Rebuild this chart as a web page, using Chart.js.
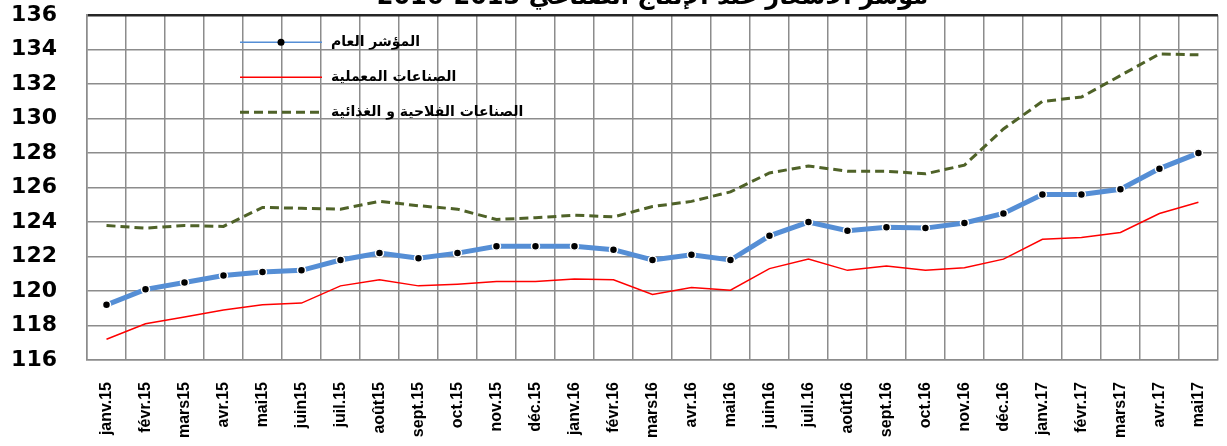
<!DOCTYPE html>
<html lang="ar">
<head>
<meta charset="UTF-8">
<title>مؤشر الأسعار عند الإنتاج الصناعي</title>
<script src="https://cdn.jsdelivr.net/npm/chart.js"></script>
<style>
  html, body { margin: 0; padding: 0; background: #fff; overflow: hidden; }
  #wrap { position: absolute; left: 0; top: -28px; width: 1240px; height: 474px; }
</style>
</head>
<body>
<div id="wrap"><canvas id="myChart"></canvas></div>
<script>
const months = ['janv.15', 'févr.15', 'mars15', 'avr.15', 'mai15', 'juin15', 'juil.15', 'août15', 'sept.15', 'oct.15',
  'nov.15', 'déc.15', 'janv.16', 'févr.16', 'mars16', 'avr.16', 'mai16', 'juin16', 'juil.16', 'août16',
  'sept.16', 'oct.16', 'nov.16', 'déc.16', 'janv.17', 'févr.17', 'mars17', 'avr.17', 'mai17'];

// المؤشر العام
const general = [119.2, 120.1, 120.5, 120.9, 121.1, 121.2, 121.8, 122.2, 121.9, 122.2,
  122.6, 122.6, 122.6, 122.4, 121.8, 122.1, 121.8, 123.2, 124.0, 123.5,
  123.7, 123.65, 123.95, 124.5, 125.6, 125.6, 125.9, 127.1, 128.0];

// الصناعات المعملية
const manufacturing = [117.2, 118.1, 118.5, 118.9, 119.2, 119.3, 120.3, 120.65, 120.3, 120.4,
  120.55, 120.55, 120.7, 120.65, 119.8, 120.2, 120.05, 121.3, 121.85, 121.2,
  121.45, 121.2, 121.35, 121.85, 123.0, 123.1, 123.4, 124.5, 125.15];

// الصناعات الفلاحية و الغذائية
const agrifood = [123.8, 123.65, 123.8, 123.75, 124.85, 124.8, 124.75, 125.2, 124.95, 124.75,
  124.15, 124.25, 124.4, 124.3, 124.9, 125.2, 125.75, 126.85, 127.25, 126.95,
  126.95, 126.8, 127.3, 129.4, 131.0, 131.25, 132.5, 133.75, 133.7];

const seriesNames = ['المؤشر العام', 'الصناعات المعملية', 'الصناعات الفلاحية و الغذائية'];
const chartTitle = 'مؤشر الأسعار عند الإنتاج الصناعي 2013-2016';

// legend drawn inside the plot, like the original
const insideLegend = {
  id: 'insideLegend',
  afterDraw(chart) {
    const { ctx, chartArea } = chart;
    const x0 = chartArea.left + 153, x1 = chartArea.left + 235;
    ctx.save();
    chart.data.datasets.forEach((ds, i) => {
      const y = chartArea.top + 27 + i * 35;
      ctx.beginPath();
      ctx.strokeStyle = ds.borderColor;
      ctx.lineWidth = i === 0 ? 1.5 : ds.borderWidth;
      ctx.setLineDash(ds.borderDash || []);
      ctx.moveTo(x0, y);
      ctx.lineTo(x1, y);
      ctx.stroke();
      ctx.setLineDash([]);
      if (i === 0) {
        ctx.beginPath();
        ctx.fillStyle = ds.pointBackgroundColor;
        ctx.arc((x0 + x1) / 2, y, 3.5, 0, Math.PI * 2);
        ctx.fill();
      }
      ctx.fillStyle = '#000';
      ctx.font = 'bold 14px "DejaVu Sans"';
      ctx.textAlign = 'left';
      ctx.textBaseline = 'middle';
      ctx.fillText(ds.label, x1 + 9, y);
    });
    ctx.restore();
  }
};

new Chart(document.getElementById('myChart'), {
  type: 'line',
  data: {
    labels: months,
    datasets: [
      {
        label: seriesNames[0],
        data: general,
        borderColor: '#558ED5',
        borderWidth: 5,
        pointRadius: 4,
        pointBackgroundColor: '#000',
        pointBorderColor: '#fff',
        pointBorderWidth: 1.5,
        tension: 0
      },
      {
        label: seriesNames[1],
        data: manufacturing,
        borderColor: '#FF0000',
        borderWidth: 1.5,
        pointRadius: 0,
        tension: 0
      },
      {
        label: seriesNames[2],
        data: agrifood,
        borderColor: '#4F6228',
        borderWidth: 3,
        borderDash: [9, 5],
        pointRadius: 0,
        tension: 0
      }
    ]
  },
  options: {
    responsive: true,
    maintainAspectRatio: false,
    animation: false,
    layout: { padding: { left: 0, right: 8, top: 0, bottom: 0 } },
    plugins: {
      legend: { display: false },
      tooltip: { enabled: false },
      title: {
        display: true,
        text: chartTitle,
        fullSize: false,
        color: '#000',
        font: { family: 'DejaVu Sans', size: 24, weight: 'bold', lineHeight: 1.2 },
        padding: { top: 0, bottom: 3 }
      }
    },
    scales: {
      x: {
        offset: true,
        grid: { offset: true, color: '#8c8c8c', lineWidth: 1.5, drawTicks: false },
        border: { color: '#8c8c8c', width: 1.5 },
        ticks: {
          color: '#000',
          minRotation: 90,
          maxRotation: 90,
          autoSkip: false,
          padding: 22,
          font: { family: '"Liberation Sans Narrow", "Liberation Sans"', size: 16, weight: 'bold' }
        },
        afterFit(scale) { scale.height = 86; }
      },
      y: {
        min: 116,
        max: 136,
        ticks: {
          stepSize: 2,
          color: '#000',
          padding: 30,
          font: { family: 'DejaVu Sans', size: 22, weight: 'bold' }
        },
        grid: {
          drawTicks: false,
          color: ctx => (ctx.tick && ctx.tick.value === 136 ? '#262626' : '#8c8c8c'),
          lineWidth: ctx => (ctx.tick && ctx.tick.value === 136 ? 2.5 : 1.5)
        },
        border: { color: '#8c8c8c', width: 1.5 },
        afterFit(scale) { scale.width = 87; }
      }
    }
  },
  plugins: [insideLegend]
});
</script>
</body>
</html>
